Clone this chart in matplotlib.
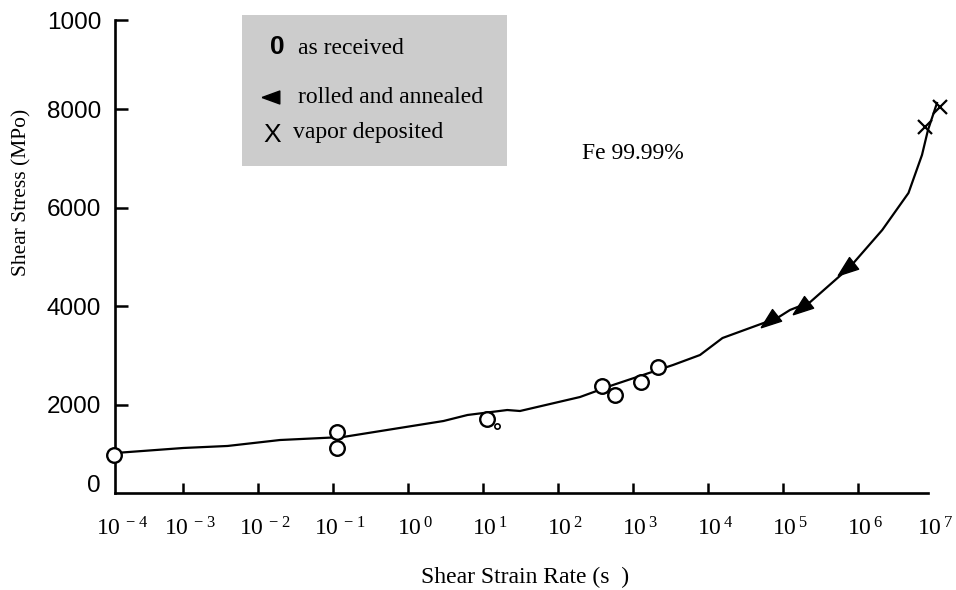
import numpy as np
import matplotlib
matplotlib.use("Agg")
import matplotlib.pyplot as plt

plt.rcParams['font.family'] = 'Liberation Serif'
plt.rcParams['mathtext.fontset'] = 'custom'
plt.rcParams['mathtext.rm'] = 'Liberation Serif'

# values (x as log10 of shear strain rate, y in MPa)
curve_log = [-3.91, -3.0, -2.41, -1.71, -0.87, 0.47, 0.79, 1.32, 1.49, 2.29,
             2.73, 3.53, 3.89, 4.19, 4.92, 5.09, 5.36, 5.89, 6.32, 6.67,
             6.85, 6.93, 7.05]
curve_y = [1025, 1127, 1168, 1289, 1350, 1675, 1797, 1898, 1878, 2162,
           2406, 2812, 3015, 3360, 3766, 3929, 4091, 4802, 5553, 6305,
           7076, 7584, 8132]

received_log = [-3.92, -0.95, -0.95, 1.05, 2.59, 2.76, 3.11, 3.33]
received_y = [985, 1452, 1127, 1716, 2386, 2203, 2467, 2772]
small_log = [1.19]
small_y = [1574]
annealed_log = [4.83, 5.25, 5.85]
annealed_y = [3726, 3990, 4782]
vapor_log = [6.89, 7.09]
vapor_y = [7645, 8051]

x_left, x_right = -3.91, 6.93
tick_exps = [-3, -2, -1, 0, 1, 2, 3, 4, 5, 6]
label_exps = [-4, -3, -2, -1, 0, 1, 2, 3, 4, 5, 6, 7]
label_pos = [x_left] + tick_exps + [x_right]
ytick_vals = [416, 2000, 4000, 6000, 8000, 9817]
ytick_labels = ['0', '2000', '4000', '6000', '8000', '1000']


def arrowhead(angle_deg):
    # narrow triangle pointing along angle_deg
    pts = np.array([[1.0, 0.0], [-0.7, 0.62], [-0.7, -0.62], [1.0, 0.0]])
    a = np.deg2rad(angle_deg)
    rot = np.array([[np.cos(a), -np.sin(a)], [np.sin(a), np.cos(a)]])
    return [tuple(v) for v in pts @ rot.T]


fig = plt.figure(figsize=(9.56, 5.9), dpi=100)
ax = fig.add_axes([0.1203, 0.1644, 0.8504, 0.8017])

p = lambda v: 10.0 ** np.asarray(v)

ax.plot(p(curve_log), curve_y, color='black', lw=1.6, clip_on=False, zorder=2)
ax.plot(p(received_log), received_y, 'o', ms=10.5, mfc='white', mec='black',
        mew=1.7, clip_on=False, zorder=3)
ax.plot(p(small_log), small_y, 'o', ms=3.8, mfc='white', mec='black',
        mew=1.2, zorder=3)
ax.plot(p(annealed_log), annealed_y, marker=arrowhead(218), ls='none', ms=16,
        color='black', zorder=3)
ax.plot(p(vapor_log), vapor_y, 'x', ms=10, mew=1.6, color='black',
        clip_on=False, zorder=3)

ax.set_xscale('log')
ax.set_xlim(p(x_left), p(x_right))
ax.set_ylim(213, 9817)

for side in ['top', 'right']:
    ax.spines[side].set_visible(False)
for side in ['left', 'bottom']:
    ax.spines[side].set_linewidth(1.9)

ax.set_xticks(p(tick_exps))
ax.xaxis.set_minor_locator(matplotlib.ticker.NullLocator())
ax.tick_params(axis='x', direction='in', length=7, width=1.8, labelbottom=False)

ax.set_yticks(ytick_vals)
ax.set_yticklabels(ytick_labels, family='Liberation Sans', fontsize=17.5)
ax.tick_params(axis='y', direction='in', length=9.5, width=1.8, pad=10)
ax.yaxis.get_major_ticks()[0].tick1line.set_visible(False)

for e, pos in zip(label_exps, label_pos):
    ax.annotate(r'$\mathregular{10^{\,%d}}$' % e, xy=(p(pos), 0),
                xycoords=ax.get_xaxis_transform(), xytext=(5, -26),
                textcoords='offset points', ha='center', va='center',
                fontsize=17)

ax.text(p(2.99), 7100, 'Fe 99.99%', ha='center', va='center', fontsize=17)

fig.text(525 / 956, 1 - 577 / 590, 'Shear Strain Rate (s  )', ha='center',
         va='center', fontsize=17)
fig.text(22 / 956, 1 - 192 / 590, 'Shear Stress (MPo)', ha='center',
         va='center', rotation=90, fontsize=15.5)

# legend box
lg = fig.add_axes([0.2531, 0.7186, 0.2772, 0.2559])
lg.set_facecolor('#cccccc')
lg.set_xticks([])
lg.set_yticks([])
for s in lg.spines.values():
    s.set_visible(False)
lg.set_xlim(0, 1)
lg.set_ylim(0, 1)
lg.text(0.132, 0.79, '0', family='Liberation Sans', fontweight='bold',
        fontsize=19, ha='center', va='center')
lg.text(0.211, 0.781, 'as received', fontsize=17, va='center')
lg.plot([0.113], [0.457], marker=arrowhead(180), ms=15, color='black')
lg.text(0.211, 0.457, 'rolled and annealed', fontsize=17, va='center')
lg.text(0.113, 0.205, 'X', family='Liberation Sans', fontsize=19,
        ha='center', va='center')
lg.text(0.192, 0.219, 'vapor deposited', fontsize=17, va='center')

fig.savefig('out.png', dpi=100)
